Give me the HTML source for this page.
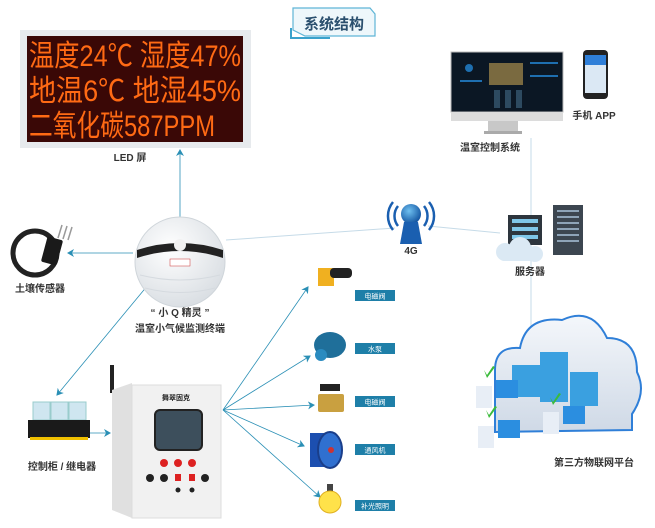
<!DOCTYPE html>
<html><head><meta charset="utf-8"><style>
html,body{margin:0;padding:0;background:#fff;width:655px;height:528px;overflow:hidden}
svg{display:block}
text{font-family:"Liberation Sans","Noto Sans CJK SC",sans-serif}
</style></head><body>
<svg width="655" height="528" viewBox="0 0 655 528" xmlns="http://www.w3.org/2000/svg">
<defs>
<radialGradient id="sph" cx="0.4" cy="0.35" r="0.7"><stop offset="0" stop-color="#fff"/><stop offset="1" stop-color="#d8dde2"/></radialGradient>
<radialGradient id="glb" cx="0.4" cy="0.35" r="0.7"><stop offset="0" stop-color="#6fc0f0"/><stop offset="1" stop-color="#0d4e9c"/></radialGradient>
<linearGradient id="cld" x1="0" y1="0" x2="0" y2="1"><stop offset="0" stop-color="#f4f7fb"/><stop offset="1" stop-color="#cfd9e6"/></linearGradient>
<marker id="ar" markerWidth="8" markerHeight="8" refX="6" refY="4" orient="auto" markerUnits="userSpaceOnUse"><path d="M0,0 L7,4 L0,8 L2,4z" fill="#2a8fb5"/></marker>
</defs>
<path d="M293,8 L370,8 L375,14 L375,36 L305,36 L293,30z" fill="#eef7fb" stroke="#5fb5d6" stroke-width="1.2"/>
<path d="M291,28 L291,38 L330,38" fill="none" stroke="#3aa2cc" stroke-width="2"/>
<text x="334" y="29" font-size="15" font-weight="bold" fill="#2a4f6e" text-anchor="middle">系统结构</text>
<rect x="20" y="30" width="231" height="118" fill="#e7eaed"/>
<rect x="27" y="36" width="216" height="106" fill="#3a0806"/>
<g fill="#ff6a14" font-family="'Liberation Mono','Noto Sans CJK SC',monospace" font-size="30">
<text x="29" y="66" textLength="212" lengthAdjust="spacingAndGlyphs">温度24℃ 湿度47%</text>
<text x="29" y="101" textLength="212" lengthAdjust="spacingAndGlyphs">地温6℃  地湿45%</text>
<text x="29" y="136" textLength="186" lengthAdjust="spacingAndGlyphs">二氧化碳587PPM</text>
</g>
<text x="130" y="161" font-size="10" font-weight="bold" fill="#333" text-anchor="middle">LED 屏</text>
<g stroke="#2a8fb5" stroke-width="0.8" fill="none">
<line x1="180" y1="218" x2="180" y2="150" marker-end="url(#ar)"/>
<line x1="133" y1="253" x2="68" y2="253" marker-end="url(#ar)"/>
<line x1="148" y1="285" x2="57" y2="395" marker-end="url(#ar)"/>
<line x1="85" y1="433" x2="110" y2="433" marker-end="url(#ar)"/>
<line x1="223" y1="410" x2="308" y2="287" marker-end="url(#ar)"/>
<line x1="223" y1="410" x2="310" y2="356" marker-end="url(#ar)"/>
<line x1="223" y1="410" x2="314" y2="405" marker-end="url(#ar)"/>
<line x1="223" y1="410" x2="304" y2="446" marker-end="url(#ar)"/>
<line x1="223" y1="410" x2="320" y2="497" marker-end="url(#ar)"/>
</g>
<g stroke="#c6dbe8" stroke-width="1" fill="none">
<line x1="226" y1="240" x2="395" y2="228"/>
<line x1="428" y1="226" x2="500" y2="233"/>
<line x1="531" y1="138" x2="531" y2="330"/>
</g>
<ellipse cx="35" cy="253" rx="22" ry="22" fill="none" stroke="#222" stroke-width="5"/>
<rect x="44" y="238" width="16" height="26" rx="2" fill="#1a1a1a" transform="rotate(15 52 251)"/>
<g stroke="#999" stroke-width="1.5"><line x1="58" y1="238" x2="62" y2="225"/><line x1="63" y1="239" x2="67" y2="226"/><line x1="68" y1="240" x2="72" y2="227"/></g>
<text x="40" y="292" font-size="10" font-weight="bold" fill="#333" text-anchor="middle">土壤传感器</text>
<circle cx="180" cy="262" r="45" fill="url(#sph)" stroke="#cfd5da"/>
<path d="M137,250 Q180,236 223,250 L223,258 Q180,244 137,258z" fill="#222"/>
<circle cx="180" cy="245" r="6" fill="#f2f2f2"/>
<g stroke="#d5dadf" fill="none"><path d="M140,275 Q180,285 220,275"/><path d="M145,288 Q180,297 215,288"/></g>
<rect x="170" y="259" width="20" height="7" fill="#fff" stroke="#c33" stroke-width="0.5"/>
<text x="180" y="316" font-size="10" font-weight="bold" fill="#333" text-anchor="middle">“ 小 Q 精灵 ”</text>
<text x="180" y="332" font-size="10" font-weight="bold" fill="#333" text-anchor="middle">温室小气候监测终端</text>
<rect x="33" y="402" width="17" height="18" fill="#cfe6f0" stroke="#9cc"/>
<rect x="51" y="402" width="17" height="18" fill="#cfe6f0" stroke="#9cc"/>
<rect x="69" y="402" width="17" height="18" fill="#cfe6f0" stroke="#9cc"/>
<rect x="28" y="420" width="62" height="18" fill="#1a1a1a"/>
<rect x="30" y="437" width="58" height="3" fill="#f0c000"/>
<text x="62" y="470" font-size="10" font-weight="bold" fill="#333" text-anchor="middle">控制柜 / 继电器</text>
<rect x="110" y="365" width="4" height="28" fill="#222"/>
<path d="M112,390 L132,383 L132,518 L112,510z" fill="#e0e0e0"/>
<rect x="132" y="385" width="89" height="133" fill="#f1f1f1" stroke="#ddd"/>
<text x="176" y="400" font-size="7" font-weight="bold" fill="#222" text-anchor="middle">舞翠固克</text>
<rect x="155" y="410" width="47" height="40" rx="5" fill="#3d4f5c" stroke="#222" stroke-width="2"/>
<g fill="#d22"><circle cx="164" cy="463" r="4"/><circle cx="178" cy="463" r="4"/><circle cx="192" cy="463" r="4"/></g>
<g fill="#222"><circle cx="150" cy="478" r="4"/><circle cx="164" cy="478" r="4"/><circle cx="205" cy="478" r="4"/><circle cx="178" cy="490" r="2.5"/><circle cx="192" cy="490" r="2.5"/></g>
<g fill="#d22"><rect x="175" y="474" width="6" height="7"/><rect x="189" y="474" width="6" height="7"/></g>
<rect x="318" y="268" width="16" height="18" fill="#f0b020"/><rect x="330" y="268" width="22" height="10" rx="4" fill="#222"/>
<rect x="355" y="290" width="40" height="11" fill="#1e7fa8"/><text x="375" y="298.5" font-size="7" fill="#fff" text-anchor="middle">电磁阀</text>
<ellipse cx="330" cy="345" rx="16" ry="13" fill="#1f6f9a"/><circle cx="321" cy="355" r="6" fill="#2a8bc0"/>
<rect x="355" y="343" width="40" height="11" fill="#1e7fa8"/><text x="375" y="351.5" font-size="7" fill="#fff" text-anchor="middle">水泵</text>
<rect x="320" y="384" width="20" height="7" fill="#222"/><rect x="318" y="394" width="26" height="18" rx="2" fill="#c9a040"/>
<rect x="355" y="396" width="40" height="11" fill="#1e7fa8"/><text x="375" y="404.5" font-size="7" fill="#fff" text-anchor="middle">电磁阀</text>
<rect x="310" y="433" width="20" height="34" fill="#1c4fb0"/><ellipse cx="330" cy="450" rx="12" ry="18" fill="#3070d0" stroke="#1a3e8a" stroke-width="2"/><circle cx="331" cy="450" r="3" fill="#c33"/>
<rect x="355" y="444" width="40" height="11" fill="#1e7fa8"/><text x="375" y="452.5" font-size="7" fill="#fff" text-anchor="middle">通风机</text>
<rect x="327" y="484" width="6" height="8" fill="#444"/><circle cx="330" cy="502" r="11" fill="#ffe24a" stroke="#e0b020"/>
<rect x="355" y="500" width="40" height="11" fill="#1e7fa8"/><text x="375" y="508.5" font-size="7" fill="#fff" text-anchor="middle">补光照明</text>
<g fill="none" stroke="#1a5fb0" stroke-width="2.5"><path d="M398,206 A16,16 0 0 0 398,226"/><path d="M393,202 A22,22 0 0 0 393,230"/><path d="M424,206 A16,16 0 0 1 424,226"/><path d="M429,202 A22,22 0 0 1 429,230"/></g>
<circle cx="411" cy="214" r="10" fill="url(#glb)"/>
<path d="M404,222 L418,222 L422,244 L400,244z" fill="#1a5fb0"/>
<text x="411" y="254" font-size="10" font-weight="bold" fill="#333" text-anchor="middle">4G</text>
<rect x="451" y="52" width="112" height="60" fill="#0b1724" stroke="#bbb"/>
<rect x="451" y="112" width="112" height="9" fill="#dcdcdc"/>
<rect x="488" y="121" width="30" height="10" fill="#c8c8c8"/><rect x="484" y="131" width="38" height="3" fill="#aaa"/>
<rect x="489" y="63" width="34" height="22" fill="#7a6a40"/>
<g fill="#1e6fb0"><circle cx="469" cy="68" r="4"/><rect x="530" y="62" width="28" height="2"/><rect x="530" y="75" width="28" height="2"/><rect x="460" y="80" width="22" height="2"/></g>
<g fill="#2d4a60"><rect x="494" y="90" width="6" height="18"/><rect x="505" y="90" width="6" height="18"/><rect x="516" y="90" width="6" height="18"/></g>
<text x="490" y="151" font-size="10" font-weight="bold" fill="#333" text-anchor="middle">温室控制系统</text>
<rect x="583" y="50" width="25" height="49" rx="4" fill="#222"/><rect x="585" y="55" width="21" height="38" fill="#dbe8f4"/><rect x="585" y="55" width="21" height="10" fill="#2f7fd8"/>
<text x="594" y="119" font-size="10" font-weight="bold" fill="#333" text-anchor="middle">手机 APP</text>
<rect x="553" y="205" width="30" height="50" fill="#3c4650"/>
<g fill="#8ea4b8"><rect x="557" y="210" width="22" height="2"/><rect x="557" y="216" width="22" height="2"/><rect x="557" y="222" width="22" height="2"/><rect x="557" y="228" width="22" height="2"/><rect x="557" y="234" width="22" height="2"/><rect x="557" y="240" width="22" height="2"/></g>
<rect x="508" y="215" width="34" height="30" fill="#2d353d"/>
<g fill="#7fc6e8"><rect x="512" y="219" width="26" height="4"/><rect x="512" y="227" width="26" height="4"/><rect x="512" y="235" width="26" height="4"/></g>
<g fill="#dbe9f4"><circle cx="505" cy="252" r="9"/><circle cx="520" cy="248" r="11"/><circle cx="535" cy="254" r="8"/><rect x="500" y="252" width="40" height="9" rx="4"/></g>
<text x="530" y="275" font-size="10" font-weight="bold" fill="#333" text-anchor="middle">服务器</text>
<path d="M495,432 L495,370 Q495,346 520,348 Q526,316 562,320 Q592,306 607,338 Q637,338 637,372 Q647,392 632,414 L632,430z" fill="url(#cld)" stroke="#2f7fd8" stroke-width="2"/>
<g fill="#3aa0e0"><rect x="512" y="365" width="28" height="32"/><rect x="540" y="352" width="28" height="50"/><rect x="570" y="372" width="28" height="34"/></g>
<g fill="#e8eef6"><rect x="476" y="386" width="16" height="22"/><rect x="478" y="426" width="16" height="22"/><rect x="543" y="412" width="16" height="22"/></g>
<g fill="#2b8ee0"><rect x="496" y="380" width="22" height="18"/><rect x="498" y="420" width="22" height="18"/><rect x="563" y="406" width="22" height="18"/></g>
<g fill="#3bbb3b"><path d="M484,370 l3,5 l6,-9 l2,1 l-8,11z"/><path d="M486,410 l3,5 l6,-9 l2,1 l-8,11z"/><path d="M550,397 l3,5 l6,-9 l2,1 l-8,11z"/></g>
<text x="594" y="466" font-size="10" font-weight="bold" fill="#333" text-anchor="middle">第三方物联网平台</text>
</svg>
</body></html>
